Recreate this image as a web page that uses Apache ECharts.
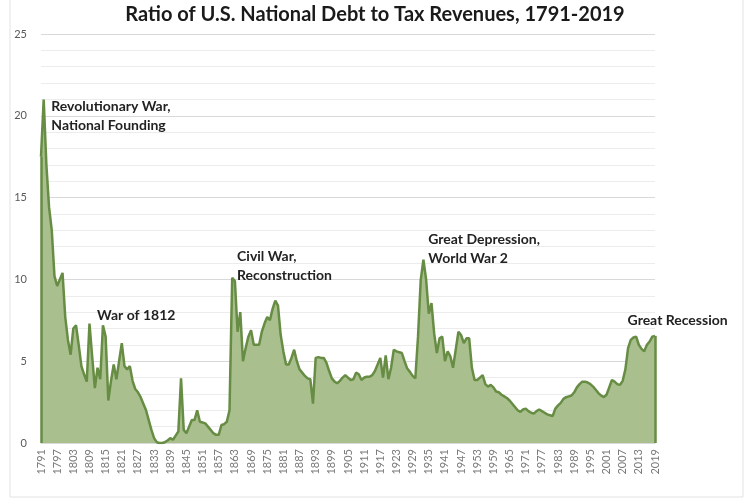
<!DOCTYPE html>
<html>
<head>
<meta charset="utf-8">
<title>Ratio of U.S. National Debt to Tax Revenues, 1791-2019</title>
<script src="https://cdn.jsdelivr.net/npm/echarts@6/dist/echarts.min.js"></script>
<style>
  html, body { margin: 0; padding: 0; background: #fff; }
  #chart { width: 750px; height: 500px; }
</style>
</head>
<body>
<div id="chart"></div>
<script>
// years on the x axis, one point per year
const firstYear = 1791;
const lastYear = 2019;
const years = [];
for (let y = firstYear; y <= lastYear; y++) years.push(String(y));

// debt / tax revenue ratio (1791 .. 2019)
const ratio = [
  17.5, 21.0, 17.0, 14.4, 13.0, 10.2, 9.6, 10.0, 10.4, 7.7,   // 1791-1800
  6.3, 5.4, 7.0, 7.2, 6.0, 4.7, 4.2, 3.75, 7.3, 5.3,          // 1801-1810
  3.35, 4.6, 3.9, 7.2, 6.5, 2.6, 3.8, 4.8, 3.9, 5.0,          // 1811-1820
  6.1, 4.7, 4.5, 4.7, 3.8, 3.3, 3.1, 2.8, 2.4, 2.0,           // 1821-1830
  1.4, 0.8, 0.3, 0.05, 0, 0, 0.05, 0.15, 0.3, 0.2,            // 1831-1840
  0.45, 0.7, 3.95, 0.8, 0.6, 1.0, 1.4, 1.4, 2.0, 1.3,         // 1841-1850
  1.25, 1.2, 1.0, 0.8, 0.6, 0.5, 0.5, 1.1, 1.15, 1.3,         // 1851-1860
  2.0, 10.1, 9.9, 6.8, 8.0, 5.0, 5.8, 6.5, 6.9, 6.0,          // 1861-1870
  6.0, 6.0, 6.8, 7.3, 7.7, 7.5, 8.2, 8.7, 8.4, 6.6,           // 1871-1880
  5.6, 4.8, 4.8, 5.2, 5.7, 5.0, 4.5, 4.3, 4.1, 3.95,          // 1881-1890
  3.9, 2.4, 5.2, 5.25, 5.2, 5.2, 4.9, 4.4, 3.95, 3.75,        // 1891-1900
  3.65, 3.8, 4.0, 4.15, 4.0, 3.85, 3.9, 4.3, 4.2, 3.85,       // 1901-1910
  4.0, 4.05, 4.05, 4.15, 4.4, 4.8, 5.2, 4.0, 5.35, 3.9,       // 1911-1920
  4.6, 5.7, 5.6, 5.55, 5.5, 5.0, 4.55, 4.35, 4.1, 3.95,       // 1921-1930
  6.5, 9.95, 11.2, 10.0, 7.9, 8.55, 6.7, 5.5, 6.4, 6.5,       // 1931-1940
  5.0, 5.6, 5.3, 4.6, 5.7, 6.8, 6.6, 6.1, 6.4, 6.4,           // 1941-1950
  4.6, 3.85, 3.85, 4.0, 4.15, 3.6, 3.45, 3.55, 3.4, 3.15,     // 1951-1960
  3.1, 2.95, 2.85, 2.75, 2.6, 2.4, 2.2, 2.0, 1.9, 2.05,       // 1961-1970
  2.1, 1.95, 1.85, 1.8, 1.95, 2.05, 1.95, 1.85, 1.75, 1.7,    // 1971-1980
  1.65, 2.1, 2.3, 2.45, 2.7, 2.8, 2.85, 2.9, 3.1, 3.4,        // 1981-1990
  3.6, 3.75, 3.75, 3.7, 3.6, 3.45, 3.25, 3.05, 2.9, 2.8,      // 1991-2000
  2.95, 3.4, 3.85, 3.75, 3.6, 3.55, 3.8, 4.5, 5.8, 6.3,       // 2001-2010
  6.45, 6.5, 6.0, 5.75, 5.6, 6.0, 6.2, 6.5, 6.55              // 2011-2019
];

// text notes on the chart: anchor year, value at the top of the text
const noteYears = ['1795', '1812', '1864', '1935', '2009'];
const noteValues = [21.1, 8.35, 11.95, 13.0, 8.04];
const noteTexts = [
  'Revolutionary War,\nNational Founding',
  'War of 1812',
  'Civil War,\nReconstruction',
  'Great Depression,\nWorld War 2',
  'Great Recession'
];

const lineColor = '#678c44';
const fillColor = '#a9c08e';

const chart = echarts.init(document.getElementById('chart'));

const option = {
  backgroundColor: '#fff',
  animation: false,
  title: {
    text: 'Ratio of U.S. National Debt to Tax Revenues, 1791-2019',
    left: 'center',
    top: 0,
    textStyle: { fontFamily: 'Lato', fontSize: 20, fontWeight: 'bold', color: '#1a1a1a' }
  },
  graphic: [{
    type: 'rect',
    shape: { x: 10, y: -2, width: 733, height: 499 },
    style: { fill: 'none', stroke: '#e3e3e3', lineWidth: 1 },
    silent: true
  }],
  grid: { left: 41, right: 95, top: 34, bottom: 57 },
  xAxis: {
    type: 'category',
    data: years,
    boundaryGap: false,
    axisLine: { show: true, lineStyle: { color: '#d9d9d9' } },
    axisTick: { show: false },
    axisLabel: {
      interval: 5,
      rotate: 90,
      margin: 6,
      fontFamily: 'Lato',
      fontSize: 11,
      color: '#7a7a7a'
    },
    splitLine: { show: false }
  },
  yAxis: {
    type: 'value',
    min: 0,
    max: 25,
    interval: 1,
    axisLine: { show: false },
    axisTick: { show: false },
    axisLabel: {
      margin: 14,
      fontFamily: 'Lato',
      fontSize: 11,
      color: '#595959',
      formatter: v => (v % 5 === 0 ? String(v) : '')
    },
    splitLine: {
      lineStyle: { color: ['#d9d9d9', '#ececec', '#ececec', '#ececec', '#ececec'], width: 1 }
    }
  },
  series: [{
    type: 'line',
    data: ratio,
    symbol: 'none',
    lineStyle: { color: lineColor, width: 2.5 },
    areaStyle: { color: fillColor, opacity: 1 },
    z: 2,
    markLine: {
      silent: true,
      symbol: 'none',
      label: { show: false },
      lineStyle: { color: lineColor, width: 2.5, type: 'solid' },
      data: [
        [{ coord: [years[0], 0] }, { coord: [years[0], ratio[0]] }],
        [{ coord: [years[years.length - 1], 0] }, { coord: [years[years.length - 1], ratio[ratio.length - 1]] }]
      ]
    },
    markPoint: {
      silent: true,
      symbol: 'rect',
      symbolSize: 1,
      itemStyle: { color: 'rgba(0,0,0,0)' },
      label: {
        show: true,
        position: [0, 0],
        align: 'left',
        verticalAlign: 'top',
        fontFamily: 'Lato',
        fontSize: 14,
        fontWeight: 'bold',
        lineHeight: 19,
        color: '#222'
      },
      data: noteYears.map((yr, i) => ({
        coord: [yr, noteValues[i]],
        label: { formatter: noteTexts[i] }
      }))
    }
  }]
};

chart.setOption(option);
</script>
</body>
</html>
